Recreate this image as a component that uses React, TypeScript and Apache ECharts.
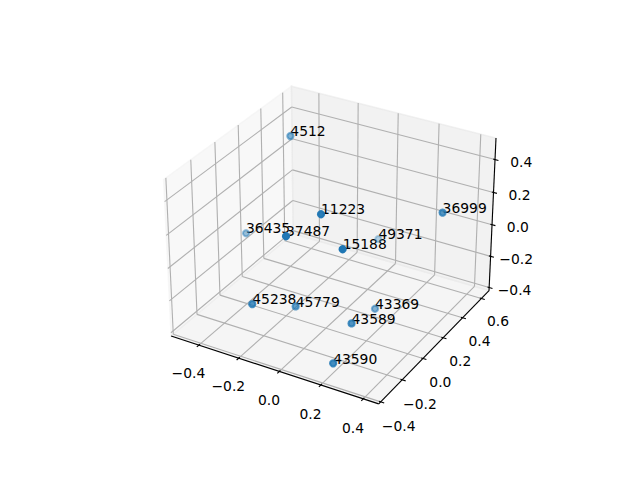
import React, { useEffect, useRef } from 'react';
import * as echarts from 'echarts';

// ---- data ----
const POINT_LABELS = ['4512', '11223', '36435', '37487', '15188', '49371', '36999', '45238', '45779', '43369', '43589', '43590'];
const X_VALUES = [-0.344, 0.070, -0.477, -0.005, 0.210, -0.055, 0.406, -0.171, -0.070, 0.144, 0.207, 0.210];
const Y_VALUES = [0.314, -0.171, 0.135, -0.336, -0.244, 0.612, 0.298, -0.342, -0.145, 0.190, -0.155, -0.327];
const Z_VALUES = [0.468, 0.402, -0.081, 0.341, 0.290, -0.240, 0.267, -0.123, -0.220, -0.360, -0.210, -0.344];

const X_TICKS = [-0.4, -0.2, 0.0, 0.2, 0.4];
const Y_TICKS = [-0.4, -0.2, 0.0, 0.2, 0.4, 0.6];
const Z_TICKS = [-0.4, -0.2, 0.0, 0.2, 0.4];
const X_LIMITS = [-0.542, 0.472];
const Y_LIMITS = [-0.418, 0.682];
const Z_LIMITS = [-0.421, 0.529];

// ---- view (matplotlib-like 3D projection) ----
const ELEVATION = 30;
const AZIMUTH = -60;
const EYE_DISTANCE = 10;
const VIEW_MIN = -0.095;
const VIEW_MAX = 0.09;

const BOX_ASPECT = (() => {
  const base = [4, 4, 3];
  const n = Math.hypot(base[0], base[1], base[2]);
  const f = (1.8294640721620434 * 25) / 24 / n;
  return base.map((v) => v * f);
})();

const DEG = Math.PI / 180;
const VIEW_W = [
  Math.cos(ELEVATION * DEG) * Math.cos(AZIMUTH * DEG),
  Math.cos(ELEVATION * DEG) * Math.sin(AZIMUTH * DEG),
  Math.sin(ELEVATION * DEG),
];
const U_RAW = [-VIEW_W[1], VIEW_W[0], 0];
const U_LEN = Math.hypot(U_RAW[0], U_RAW[1], U_RAW[2]);
const VIEW_U = U_RAW.map((v) => v / U_LEN);
const VIEW_V = [
  VIEW_W[1] * VIEW_U[2] - VIEW_W[2] * VIEW_U[1],
  VIEW_W[2] * VIEW_U[0] - VIEW_W[0] * VIEW_U[2],
  VIEW_W[0] * VIEW_U[1] - VIEW_W[1] * VIEW_U[0],
];
const LIMITS = [X_LIMITS, Y_LIMITS, Z_LIMITS];

function project(p: number[]): [number, number, number] {
  const q = [0, 1, 2].map(
    (i) => ((p[i] - LIMITS[i][0]) / (LIMITS[i][1] - LIMITS[i][0]) - 0.5) * BOX_ASPECT[i]
  );
  const dot = (a: number[]) => a[0] * q[0] + a[1] * q[1] + a[2] * q[2];
  const wq = dot(VIEW_W);
  const den = EYE_DISTANCE - wq;
  return [dot(VIEW_U) / den, dot(VIEW_V) / den, EYE_DISTANCE / (wq - EYE_DISTANCE)];
}

const fmt = (t: number) => (t < -1e-9 ? '\u2212' : '') + Math.abs(t).toFixed(1);
const FONT_FAMILY = 'DejaVu Sans';
const FONT_SIZE = 13.89;
const GRID_COLOR = '#b0b0b0';
const LW = 1.11;
const AX_PX = 369.6;
const LABEL_FACTOR = (11.5 * 48) / (72 * ((AX_PX * 2) / 100));

function renderBox(params: any, api: any) {
  const P = (x: number, y: number, z: number) => {
    const r = project([x, y, z]);
    return api.coord([r[0], r[1]]);
  };
  const [x0, x1] = X_LIMITS;
  const [y0, y1] = Y_LIMITS;
  const [z0, z1] = Z_LIMITS;
  const dx = (x1 - x0) * 0.08;
  const dy = (y1 - y0) * 0.08;
  const dz = (z1 - z0) * 0.08;
  const children: any[] = [];
  const poly = (pts: number[][], color: string) =>
    children.push({
      type: 'polygon',
      shape: { points: pts },
      style: { fill: color, stroke: color, lineWidth: 1.39 },
    });
  const line = (a: number[], b: number[], stroke: string) =>
    children.push({
      type: 'line',
      shape: { x1: a[0], y1: a[1], x2: b[0], y2: b[1] },
      style: { stroke, lineWidth: LW, lineCap: 'butt' },
    });
  const label = (pt: number[], text: string) =>
    children.push({
      type: 'text',
      style: {
        text,
        x: pt[0],
        y: pt[1] + 5.8,
        fill: '#000000',
        fontFamily: FONT_FAMILY,
        fontSize: FONT_SIZE,
        align: 'center',
        verticalAlign: 'middle',
      },
    });

  // panes
  poly([P(x0, y0, z0), P(x0, y1, z0), P(x0, y1, z1), P(x0, y0, z1)], 'rgba(242,242,242,0.5)');
  poly([P(x0, y1, z0), P(x1, y1, z0), P(x1, y1, z1), P(x0, y1, z1)], 'rgba(230,230,230,0.5)');
  poly([P(x0, y0, z0), P(x1, y0, z0), P(x1, y1, z0), P(x0, y1, z0)], 'rgba(236,236,236,0.5)');

  // grid lines
  X_TICKS.forEach((t) => {
    line(P(t, y0, z0), P(t, y1, z0), GRID_COLOR);
    line(P(t, y1, z0), P(t, y1, z1), GRID_COLOR);
  });
  Y_TICKS.forEach((t) => {
    line(P(x0, t, z0), P(x1, t, z0), GRID_COLOR);
    line(P(x0, t, z0), P(x0, t, z1), GRID_COLOR);
  });
  Z_TICKS.forEach((t) => {
    line(P(x0, y0, t), P(x0, y1, t), GRID_COLOR);
    line(P(x0, y1, t), P(x1, y1, t), GRID_COLOR);
  });

  // axis lines
  line(P(x0, y0, z0), P(x1, y0, z0), '#000000');
  line(P(x1, y0, z0), P(x1, y1, z0), '#000000');
  line(P(x1, y1, z0), P(x1, y1, z1), '#000000');

  // ticks and tick labels
  X_TICKS.forEach((t) => {
    line(P(t, y0 - 0.2 * dy, z0), P(t, y0 + 0.1 * dy, z0), '#000000');
    label(P(t, y0 - LABEL_FACTOR * dy, z0 - LABEL_FACTOR * dz), fmt(t));
  });
  Y_TICKS.forEach((t) => {
    line(P(x1 + 0.2 * dx, t, z0), P(x1 - 0.1 * dx, t, z0), '#000000');
    label(P(x1 + LABEL_FACTOR * dx, t, z0 - LABEL_FACTOR * dz), fmt(t));
  });
  Z_TICKS.forEach((t) => {
    line(P(x1 + 0.2 * dx, y1, t), P(x1 - 0.1 * dx, y1, t), '#000000');
    label(P(x1 + LABEL_FACTOR * dx, y1 + LABEL_FACTOR * dy, t), fmt(t));
  });

  return { type: 'group', children };
}

// depth shading like matplotlib (far points fade to 30 %)
const DEPTHS = POINT_LABELS.map((_, i) => project([X_VALUES[i], Y_VALUES[i], Z_VALUES[i]])[2]);
const D_MIN = Math.min(...DEPTHS);
const D_MAX = Math.max(...DEPTHS);
const POINT_DATA = POINT_LABELS.map((_, i) => [X_VALUES[i], Y_VALUES[i], Z_VALUES[i], i]).sort(
  (a, b) => DEPTHS[b[3]] - DEPTHS[a[3]]
);

function renderPoint(params: any, api: any) {
  const i = api.value(3);
  const r = project([api.value(0), api.value(1), api.value(2)]);
  const c = api.coord([r[0], r[1]]);
  const alpha = 1 - 0.7 * ((DEPTHS[i] - D_MIN) / (D_MAX - D_MIN));
  return {
    type: 'circle',
    shape: { cx: c[0], cy: c[1], r: 3.1 },
    style: {
      fill: '#1f77b4',
      fillOpacity: alpha,
      stroke: '#1f77b4',
      strokeOpacity: alpha,
      lineWidth: 2.08,
    },
  };
}

function renderLabel(params: any, api: any) {
  const i = api.value(3);
  const r = project([api.value(0), api.value(1), api.value(2)]);
  const c = api.coord([r[0], r[1]]);
  return {
    type: 'text',
    style: {
      text: POINT_LABELS[i],
      x: c[0],
      y: c[1] - 4.8,
      fill: '#000000',
      fontFamily: FONT_FAMILY,
      fontSize: FONT_SIZE,
      align: 'left',
      verticalAlign: 'middle',
    },
  };
}

export default function App() {
  const ref = useRef<HTMLDivElement>(null);
  useEffect(() => {
    const chart = echarts.init(ref.current!, null, { renderer: 'svg' });
    chart.setOption({
      animation: false,
      backgroundColor: '#ffffff',
      grid: { left: 143.2, top: 57.6, width: AX_PX, height: AX_PX, show: false },
      xAxis: { type: 'value', min: VIEW_MIN, max: VIEW_MAX, show: false },
      yAxis: { type: 'value', min: VIEW_MIN, max: VIEW_MAX, show: false },
      series: [
        { type: 'custom', z: 1, data: [[0, 0]], renderItem: renderBox, silent: true },
        { type: 'custom', z: 2, data: POINT_DATA, renderItem: renderLabel, silent: true },
        { type: 'custom', z: 3, data: POINT_DATA, renderItem: renderPoint, silent: true },
      ],
    });
    return () => chart.dispose();
  }, []);
  return (
    <div
      ref={ref}
      style={{ position: 'fixed', left: 0, top: 0, width: 640, height: 480, background: '#ffffff' }}
    />
  );
}
